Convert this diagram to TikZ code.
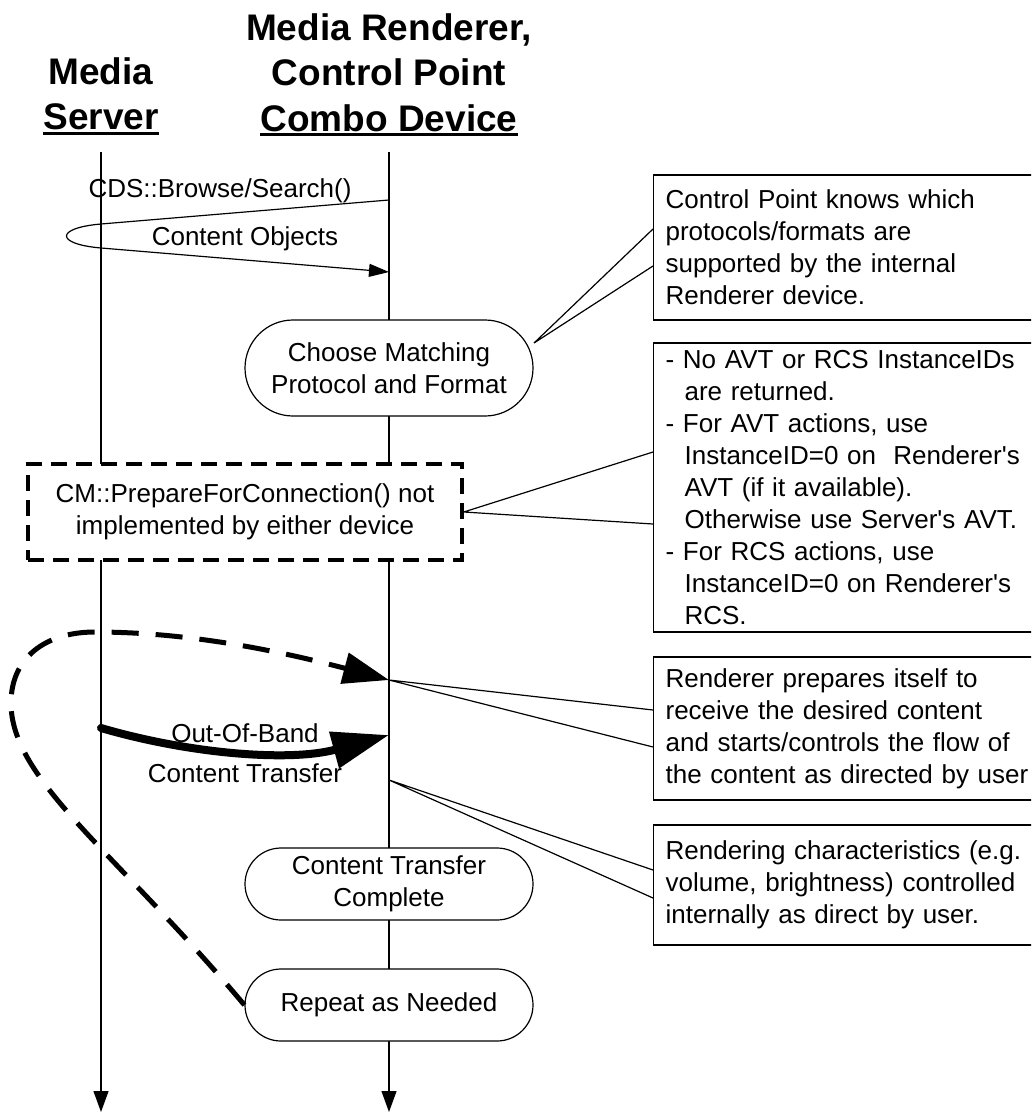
\documentclass[tikz,border=0pt]{standalone}
\usepackage{fontspec}
\setmainfont{Liberation Sans}
\usepackage{tikz}
\usetikzlibrary{arrows.meta,shapes.misc,positioning}
\newcommand{\headUl}[1]{\setbox0\hbox{#1}\rlap{\rule[-5pt]{\wd0}{3pt}}\box0}
\newcommand{\subInd}{\hspace*{19pt}}
\newcommand{\apos}{\textquotesingle}
\tikzstyle{headNode} = [align=center, inner sep=0pt, anchor=north, font=\fontsize{37}{45.5}\selectfont\bfseries]
\tikzstyle{txtNode} = [inner sep=0pt, anchor=base, font=\fontsize{26}{32}\selectfont]
\tikzstyle{stepNode} = [rounded rectangle, draw, fill=white, line width=1.2pt, align=center, minimum width=288pt, inner sep=0pt, font=\fontsize{26}{32}\selectfont]
\tikzstyle{noteBox} = [draw, fill=white, line width=1.2pt, anchor=west, text width=396pt, align=left, inner xsep=12pt, inner ysep=0pt, font=\fontsize{26}{32}\selectfont]
\tikzstyle{dashBox} = [draw, fill=white, dash pattern=on 16pt off 9pt, line width=3.5pt, align=center, minimum width=434pt, minimum height=96pt, inner sep=0pt, font=\fontsize{26}{32}\selectfont]
\tikzstyle{lifeLine} = [line width=1.2pt, -{Triangle[length=21pt,width=15pt]}]
\tikzstyle{msgLine} = [line width=1.2pt, -{Triangle[length=20pt,width=13pt]}]
\tikzstyle{callLine} = [line width=1.2pt]
\tikzstyle{repeatLine} = [line width=5pt, dash pattern=on 27pt off 17pt, -{Triangle[length=46pt,width=31pt]}]
\tikzstyle{bulkLine} = [line width=8pt, line cap=round, -{Triangle[length=57pt,width=36pt]}]

\begin{document}
\begin{tikzpicture}[x=1pt,y=-1pt]
\useasboundingbox (0,0) rectangle (1031,1113);
\clip (0,0) rectangle (1031,1113);
\node[headNode] (srvHead) at (101,57) {Media\\\headUl{Server}};
\node[headNode] (renHead) at (389,13) {Media Renderer,\\Control Point\\\headUl{Combo Device}};
\coordinate (srvTop) at (101,152);
\coordinate (srvBot) at (101,1112);
\coordinate (renTop) at (389,152);
\coordinate (renBot) at (389,1112);
\draw[lifeLine] (srvTop) -- (srvBot);
\draw[lifeLine] (renTop) -- (renBot);

\coordinate (browseR) at (389,200);
\coordinate (browseL) at (101,224);
\coordinate (objL) at (101,248);
\coordinate (objR) at (389,272);
\draw[msgLine] (browseR) -- (browseL) .. controls (55,228) and (55,244) .. (objL) -- (objR);
\node[txtNode] (browseLbl) at (220,197) {CDS::Browse/Search()};
\node[txtNode] (objLbl) at (245,245) {Content Objects};

\node[stepNode, minimum height=96pt] (choose) at (389,368) {Choose Matching\\Protocol and Format};
\node[dashBox] (cmNote) at (245,512) {CM::PrepareForConnection() not\\implemented by either device};
\node[stepNode, minimum height=72pt] (done) at (389,884) {Content Transfer\\Complete};
\node[stepNode, minimum height=72pt] (again) at (389,1005) {Repeat as Needed};

\coordinate (chooseTip) at (534,343);
\coordinate (protoA) at (653,229);
\coordinate (protoB) at (653,266);
\draw[callLine] (protoA) -- (chooseTip) -- (protoB);
\node[noteBox, minimum height=145pt] (protoNote) at (653,247.5) {Control Point knows which\\protocols/formats are\\supported by the internal\\Renderer device.};

\coordinate (idA) at (653,452);
\coordinate (idB) at (653,524);
\draw[callLine] (idA) -- (cmNote.east) -- (idB);
\node[noteBox, minimum height=289pt] (idNote) at (653,487.5) {- No AVT or RCS InstanceIDs\\\subInd are returned.\\- For AVT actions, use\\\subInd InstanceID=0 on~ Renderer\apos s\\\subInd AVT (if it available).\\\subInd Otherwise use Server\apos s AVT.\\- For RCS actions, use\\\subInd InstanceID=0 on Renderer\apos s\\\subInd RCS.};

\coordinate (xferTip) at (389,680);
\coordinate (prepA) at (653,710);
\coordinate (prepB) at (653,747);
\draw[callLine] (prepA) -- (xferTip) -- (prepB);
\node[noteBox, minimum height=143pt] (prepNote) at (653,728.5) {Renderer prepares itself to\\receive the desired content\\and starts/controls the flow of\\the content as directed by user};

\coordinate (ctrlTip) at (389,780);
\coordinate (ctrlA) at (653,870);
\coordinate (ctrlB) at (653,898);
\draw[callLine] (ctrlA) -- (ctrlTip) -- (ctrlB);
\node[noteBox, minimum height=120pt] (ctrlNote) at (653,885) {Rendering characteristics (e.g.\\volume, brightness) controlled\\internally as direct by user.};

\draw[repeatLine] (again.west) .. controls (116,852) and (11,780) .. (11,703) .. controls (11,658) and (45,632) .. (95,632) .. controls (195,632) and (291,654) .. (xferTip);

\coordinate (oobA) at (101,728);
\coordinate (oobB) at (389,735);
\draw[bulkLine] (oobA) .. controls (190,754) and (290,762) .. (oobB);
\node[txtNode] (oobLbl) at (245,742) {Out-Of-Band};
\node[txtNode] (xferLbl) at (245,782) {Content Transfer};
\end{tikzpicture}
\end{document}
